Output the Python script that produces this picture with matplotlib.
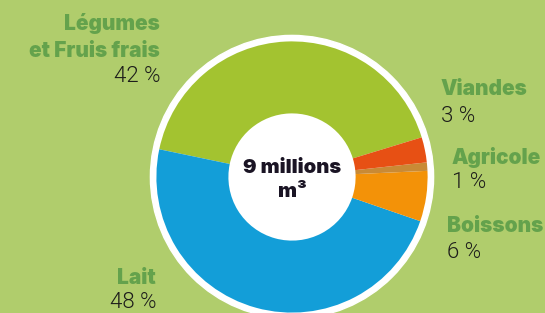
import matplotlib.pyplot as plt
from matplotlib.patches import Circle

# ------ data ------
categories = ['Légumes\net Fruis frais', 'Lait', 'Boissons', 'Agricole', 'Viandes']
shares = [42, 48, 6, 1, 3]
colors = ['#a3c330', '#139ed8', '#f39208', '#c98a35', '#e75014']
pct_labels = ['42 %', '48 %', '6 %', '1 %', '3 %']
total_label = '9 millions\nm³'

bg = '#b0cd6c'
label_col = '#64a24c'
text_col = '#1d1d1b'

W, H = 545, 313
fig = plt.figure(figsize=(W / 100, H / 100), dpi=100, facecolor=bg)
ax = fig.add_axes([0, 0, 1, 1])

cx, cy = 292, H - 177   # pixel y -> data y

# white outer ring + white centre
ax.add_patch(Circle((cx, cy), 141.6, color='white', zorder=1))
ax.pie(shares, colors=colors, startangle=17, counterclock=True,
       center=(cx, cy), radius=135.6, frame=True,
       wedgeprops=dict(width=72, linewidth=0, zorder=2))
ax.set_xlim(0, W)
ax.set_ylim(0, H)
ax.set_aspect('equal')
ax.axis('off')

ax.text(cx, H - 180, total_label, ha='center', va='center', fontsize=14.5,
        fontweight=900, family='Inter', color='#1a1424', linespacing=1.4, zorder=5)

# label positions (pixel coords: x, y of name lines, y of pct, align)
pos = [
    (160, [24, 51], 77, 'right'),
    (156, [278], 303, 'right'),
    (447, [226], 252, 'left'),
    (452, [157], 183, 'left'),
    (441, [89], 116, 'left'),
]
for name, pct, (x, ys, yp, al) in zip(categories, pct_labels, pos):
    for line, y in zip(name.split('\n'), ys):
        ax.text(x, H - y, line, ha=al, va='center', fontsize=15, fontweight=900,
                family='Inter', color=label_col)
    ax.text(x, H - yp, pct, ha=al, va='center', fontsize=16, fontweight=300,
            family='Roboto', color=text_col)

fig.savefig('out.png', dpi=100, facecolor=bg)
